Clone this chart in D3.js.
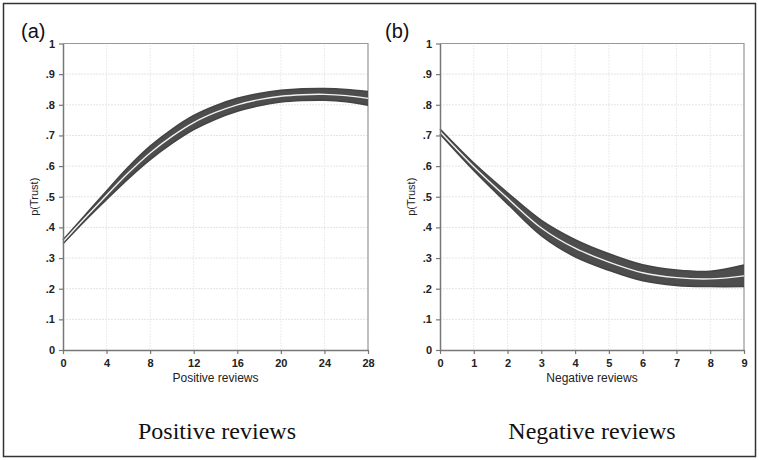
<!DOCTYPE html>
<html>
<head>
<meta charset="utf-8">
<script src="https://cdn.jsdelivr.net/npm/d3@7"></script>
<style>
  body { margin: 0; background: #fff; }
  .tick text { font-family: "Liberation Sans", Arial, sans-serif; font-size: 11px; font-weight: bold; fill: #222; }
</style>
</head>
<body>
<div id="chart"></div>
<script>
// panel (a): positive reviews
var posX = [0, 2, 4, 6, 8, 10, 12, 14, 16, 18, 20, 22, 24, 26, 28];
var posMean = [0.353, 0.43, 0.505, 0.578, 0.643, 0.697, 0.742, 0.775, 0.8, 0.817, 0.828, 0.833, 0.834, 0.83, 0.821];
var posHalf = [0.006, 0.009, 0.014, 0.019, 0.022, 0.023, 0.023, 0.022, 0.021, 0.02, 0.019, 0.019, 0.019, 0.02, 0.022];
var posTicks = [0, 4, 8, 12, 16, 20, 24, 28];

// panel (b): negative reviews
var negX = [0, 1, 2, 3, 4, 5, 6, 7, 8, 9];
var negMean = [0.713, 0.598, 0.495, 0.398, 0.332, 0.287, 0.252, 0.236, 0.232, 0.242];
var negHalf = [0.008, 0.012, 0.018, 0.025, 0.028, 0.027, 0.026, 0.025, 0.025, 0.035];
var negTicks = [0, 1, 2, 3, 4, 5, 6, 7, 8, 9];

var yTicks = [0, 0.1, 0.2, 0.3, 0.4, 0.5, 0.6, 0.7, 0.8, 0.9, 1];

var svgWidth = 759;
var svgHeight = 460;

var svg = d3.select("#chart")
    .append("svg")
    .attr("width", svgWidth)
    .attr("height", svgHeight);

// outer frame
svg.append("rect")
    .attr("x", 3.5).attr("y", 3.5)
    .attr("width", 752).attr("height", 453)
    .attr("fill", "none")
    .attr("stroke", "#333")
    .attr("stroke-width", 1.5);

function drawPanel(opts) {
    var xs = opts.xs, mean = opts.mean, half = opts.half;
    var data = xs.map(function(x, i) {
        return { x: x, m: mean[i], lo: mean[i] - half[i], hi: mean[i] + half[i] };
    });

    var x = d3.scaleLinear().domain(opts.domain).range([opts.left, opts.right]);
    var y = d3.scaleLinear().domain([0, 1]).range([350, 43.5]);

    var g = svg.append("g");

    // grid
    g.selectAll(".hgrid").data(yTicks.slice(1)).enter().append("line")
        .attr("x1", opts.left).attr("x2", opts.right)
        .attr("y1", d => y(d)).attr("y2", d => y(d))
        .attr("stroke", "#e4e4e4").attr("stroke-width", 1)
        .attr("stroke-dasharray", "2,1");
    g.selectAll(".vgrid").data(opts.ticks.slice(1)).enter().append("line")
        .attr("x1", d => x(d)).attr("x2", d => x(d))
        .attr("y1", y(0)).attr("y2", y(1))
        .attr("stroke", "#ececec").attr("stroke-width", 1)
        .attr("stroke-dasharray", "2,1");

    // top and right frame
    g.append("path")
        .attr("d", `M${opts.left},${y(1)}H${opts.right}V${y(0)}`)
        .attr("fill", "none").attr("stroke", "#999").attr("stroke-width", 1.2);

    // band
    var curve = d3.curveCatmullRom.alpha(0.5);
    var area = d3.area().x(d => x(d.x)).y0(d => y(d.lo)).y1(d => y(d.hi)).curve(curve);
    g.append("path").datum(data)
        .attr("d", area)
        .attr("fill", "#4d4d4d");
    var loLine = d3.line().x(d => x(d.x)).y(d => y(d.lo)).curve(curve);
    var hiLine = d3.line().x(d => x(d.x)).y(d => y(d.hi)).curve(curve);
    var mLine = d3.line().x(d => x(d.x)).y(d => y(d.m)).curve(curve);
    [loLine, hiLine].forEach(function(l) {
        g.append("path").datum(data).attr("d", l)
            .attr("fill", "none").attr("stroke", "#444").attr("stroke-width", 1.6);
    });
    g.append("path").datum(data).attr("d", mLine)
        .attr("fill", "none").attr("stroke", "#f2f2f2").attr("stroke-width", 1.4);

    // axes
    var bottomAxis = d3.axisBottom(x).tickValues(opts.ticks).tickSize(4).tickSizeOuter(0)
        .tickFormat(d3.format("d"));
    var leftAxis = d3.axisLeft(y).tickValues(yTicks).tickSize(4).tickSizeOuter(0)
        .tickFormat(d => d === 0 ? "0" : d === 1 ? "1" : d3.format(".1f")(d).replace(/^0/, ""));

    var bx = g.append("g").attr("transform", `translate(0, ${y(0)})`).call(bottomAxis);
    var lx = g.append("g").attr("transform", `translate(${opts.left}, 0)`).call(leftAxis);
    [bx, lx].forEach(function(a) {
        a.select(".domain").attr("stroke", "#777").attr("stroke-width", 1.5);
        a.selectAll(".tick line").attr("stroke", "#777").attr("stroke-width", 1.2);
    });
    bx.selectAll(".tick text").attr("dy", "0.95em");
    lx.selectAll(".tick text").attr("dx", "-1px");

    // axis titles
    g.append("text")
        .attr("x", (opts.left + opts.right) / 2).attr("y", 382)
        .attr("text-anchor", "middle")
        .style("font-family", "Liberation Sans, Arial, sans-serif")
        .style("font-size", "12px").attr("fill", "#222")
        .text(opts.xTitle);
    g.append("text")
        .attr("transform", `translate(${opts.left - 25}, ${y(0.5)}) rotate(-90)`)
        .attr("text-anchor", "middle")
        .style("font-family", "Liberation Sans, Arial, sans-serif")
        .style("font-size", "11px").attr("fill", "#222")
        .text("p(Trust)");

    // panel letter
    svg.append("text")
        .attr("x", opts.letterX).attr("y", 38)
        .style("font-family", "Liberation Sans, Arial, sans-serif")
        .style("font-size", "20px").attr("fill", "#111")
        .text(opts.letter);

    // caption below
    svg.append("text")
        .attr("x", opts.captionX).attr("y", 439)
        .attr("text-anchor", "middle")
        .style("font-family", "Liberation Serif, Times New Roman, serif")
        .style("font-size", "24px").attr("fill", "#111")
        .text(opts.caption);
}

drawPanel({
    xs: posX, mean: posMean, half: posHalf, ticks: posTicks, domain: [0, 28],
    left: 63, right: 368, xTitle: "Positive reviews", letter: "(a)", letterX: 21,
    caption: "Positive reviews", captionX: 217
});

drawPanel({
    xs: negX, mean: negMean, half: negHalf, ticks: negTicks, domain: [0, 9],
    left: 440, right: 744, xTitle: "Negative reviews", letter: "(b)", letterX: 385,
    caption: "Negative reviews", captionX: 592
});
</script>
</body>
</html>
